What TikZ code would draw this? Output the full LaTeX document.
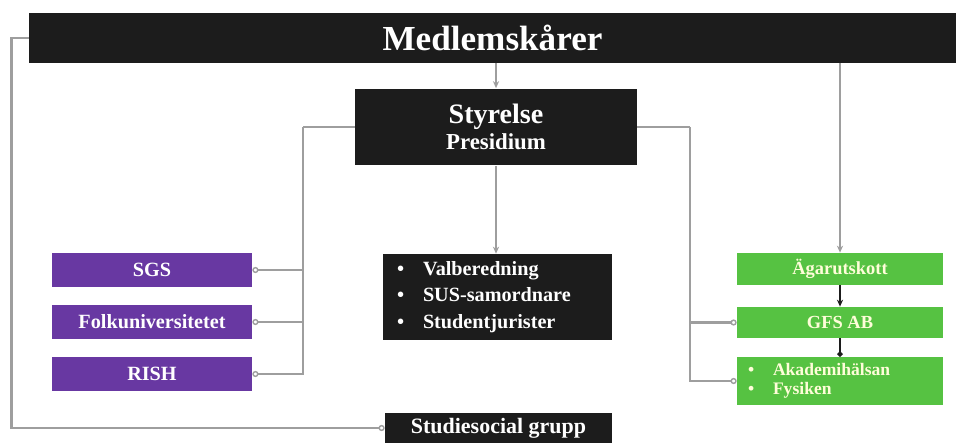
\documentclass[tikz,border=0pt]{standalone}
\usepackage{fontspec}
\setmainfont{Liberation Serif}
\usetikzlibrary{calc,positioning,arrows.meta}
\definecolor{mork}{RGB}{28,28,28}
\definecolor{lilafarg}{RGB}{104,56,162}
\definecolor{gronfarg}{RGB}{86,194,66}
\definecolor{linje}{RGB}{158,158,158}

\begin{document}
\begin{tikzpicture}[x=0.02cm,y=-0.02cm,
  svartbox/.style={fill=mork,text=white,font=\bfseries,inner sep=0pt},
  lilabox/.style={fill=lilafarg,text=white,font=\bfseries\fontsize{11.5}{14}\selectfont,inner sep=0pt,minimum width=4cm,minimum height=0.68cm},
  gronbox/.style={fill=gronfarg,text=white!85!yellow,font=\bfseries\fontsize{10.5}{13}\selectfont,inner sep=0pt,minimum width=4.12cm},
  conn/.style={draw=linje,line width=1.6pt},
  ring/.style={-{Circle[open,length=3.5pt,line width=0.8pt]}},
  pil/.style={-{Stealth[length=4pt,width=3.5pt]}}]
  \useasboundingbox[fill=white] (0,0) rectangle (956,443);

  % top bar and board
  \node[svartbox,minimum width=18.54cm,minimum height=1cm,font=\bfseries\fontsize{20}{24}\selectfont] (medl) at (492.5,38) {Medlemskårer};
  \node[svartbox,minimum width=5.64cm,minimum height=1.54cm,align=center] (styr) at (496,127) {{\fontsize{16}{18}\selectfont Styrelse}\\[1pt]{\fontsize{13}{16}\selectfont Presidium}};

  % left column
  \node[lilabox] (sgs) at (152,270) {SGS};
  \node[lilabox] (folk) at (152,322) {Folkuniversitetet};
  \node[lilabox] (rish) at (152,374) {RISH};

  % middle
  \node[svartbox,font=\bfseries\fontsize{11.5}{15}\selectfont,text width=4.02cm,inner xsep=0.28cm,minimum height=1.72cm,align=left] (valb) at (497.5,297) {\makebox[0.52cm][l]{\textbullet}Valberedning\\\makebox[0.52cm][l]{\textbullet}SUS-samordnare\\\makebox[0.52cm][l]{\textbullet}Studentjurister};
  \node[svartbox,minimum width=4.54cm,minimum height=0.6cm,font=\bfseries\fontsize{12.5}{15}\selectfont] (stud) at (498.5,428) {Studiesocial grupp};

  % right column
  \node[gronbox,minimum height=0.64cm] (agar) at (840,269) {Ägarutskott};
  \node[gronbox,minimum height=0.62cm] (gfs) at (840,322.5) {GFS AB};
  \node[gronbox,minimum height=0.96cm,text width=3.68cm,inner xsep=0.22cm,align=left,font=\bfseries\fontsize{10}{11}\selectfont] (akad) at (840,381) {\makebox[0.5cm][l]{\textbullet}Akademihälsan\\\makebox[0.5cm][l]{\textbullet}Fysiken};

  \coordinate (lbus) at (303,127);
  \coordinate (rbus) at (690,127);

  \draw[conn,pil] (medl.south -| styr.north) -- (styr.north);
  \draw[conn,pil] (styr.south) -- (styr.south |- valb.north);
  \draw[conn,pil] (medl.south -| agar.north) -- (agar.north);
  \draw[conn,ring] (medl.west) -- ++(-17,0) |- (stud.west);

  \draw[conn] (styr.west) -- (lbus);
  \draw[conn,ring] (lbus) |- (sgs.east);
  \draw[conn,ring] (lbus) |- (folk.east);
  \draw[conn,ring] (lbus) |- (rish.east);

  \draw[conn] (styr.east) -- (rbus);
  \draw[conn,ring] (rbus) |- (gfs.west);
  \draw[conn,ring] (rbus) |- (akad.west);

  \draw[draw=mork,line width=1pt,pil] (agar.south) -- (gfs.north);
  \draw[draw=mork,line width=1pt,-{Circle[length=3pt]}] (gfs.south) -- (akad.north);
\end{tikzpicture}
\end{document}
